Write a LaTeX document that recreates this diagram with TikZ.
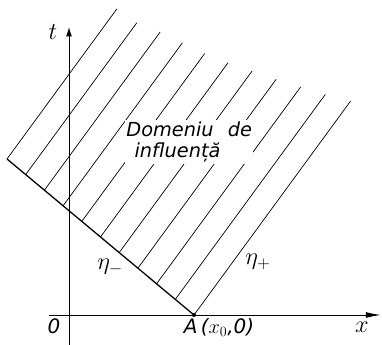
\documentclass[tikz,border=0pt]{standalone}
\usepackage{fontspec}
\usepackage{tikz}
\usetikzlibrary{arrows.meta,calc}
\newfontfamily\labfont{DejaVu Sans}
\tikzset{
  axisline/.style={line width=0.8pt,color=black},
  hatchline/.style={line width=0.6pt,color=black},
  frontline/.style={line width=1.1pt,color=black},
  axislabel/.style={font=\fontsize{20}{22}\selectfont,inner sep=1pt},
  numlabel/.style={font=\fontsize{17}{20}\selectfont\labfont\itshape,inner sep=1pt},
  domlabel/.style={font=\fontsize{16.5}{18.5}\selectfont\labfont\itshape,
    fill=white,inner sep=1pt,align=left},
  etalabel/.style={font=\fontsize{20}{22}\selectfont,inner sep=1pt},
  pointdot/.style={circle,fill=black,inner sep=0pt,minimum size=3.5pt},
}

\begin{document}
\begin{tikzpicture}[x=0.03cm,y=0.03cm]
  \useasboundingbox (-69,-30) rectangle (313,315);
  \coordinate (O) at (0,0);
  \coordinate (A) at (125,0);
  \coordinate (E) at (-62,156);

  % characteristics eta_+ from the segment E--A
  \foreach \i/\len in {0/186,1/188,2/196,3/202,4/208,5/216,6/225,7/234,8/244,9/254,10/265}
    \draw[hatchline] ($(E)!\i/10!(A)$) -- ++(53.8:\len);

  % eta_- line
  \draw[frontline] (E) -- (A);

  % axes
  \coordinate (xl) at (-20,0);
  \coordinate (xr) at (312,0);
  \coordinate (tb) at (0,-30);
  \coordinate (tt) at (0,288);
  \draw[axisline,-{Latex[length=13pt,width=5pt]}] (xl) -- (xr);
  \draw[axisline,-{Latex[length=8pt,width=5pt]}] (tb) -- (tt);
  \node[pointdot] (Ap) at (A) {};

  \node[axislabel] (tlab) at (-16,283) {$t$};
  \node[axislabel] (xlab) at (293,-12) {$x$};
  \node[numlabel] (olab) at (-15,-11) {0};
  \node[numlabel] (alab) at (150,-12) {A\,($x_0$,0)};
  \node[etalabel] (etam) at (41,48) {$\eta_-$};
  \node[etalabel] (etap) at (189,53) {$\eta_+$};

  \node[domlabel,anchor=north west] (dom) at (56,195)
    {Domeniu\hspace{12pt}de\\\hspace*{7pt}influență};
\end{tikzpicture}
\end{document}
